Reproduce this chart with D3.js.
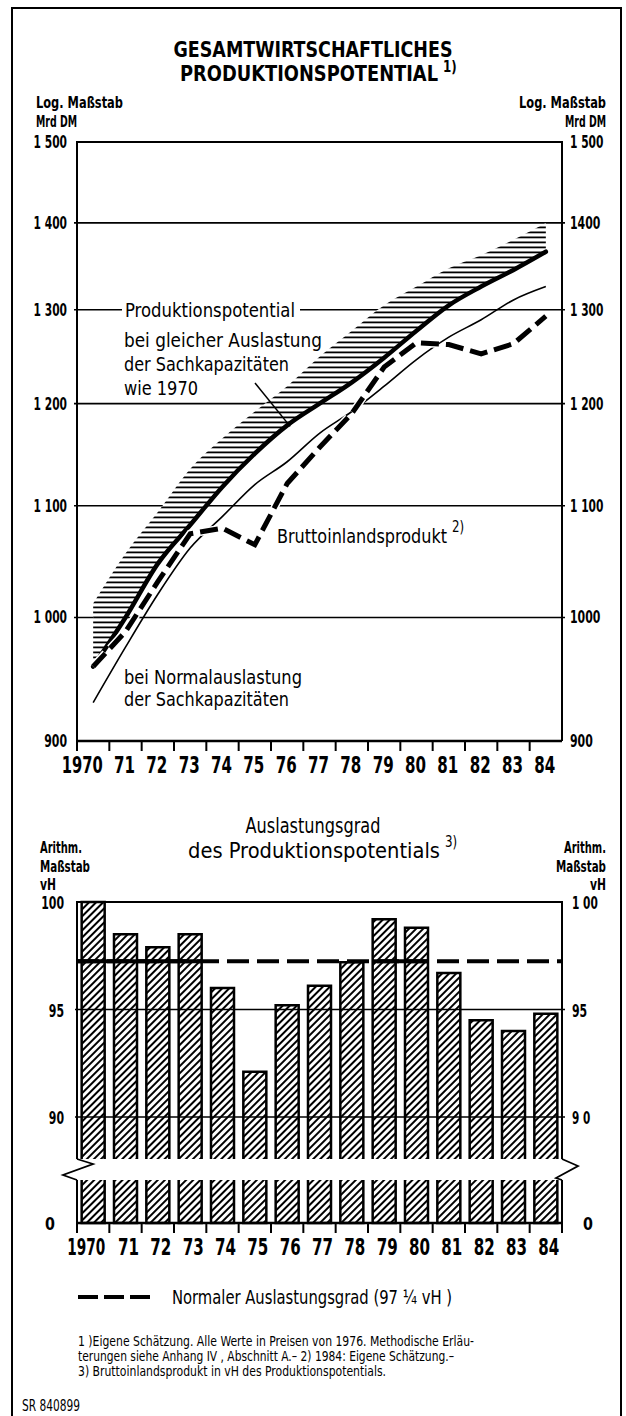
<!DOCTYPE html>
<html><head><meta charset="utf-8">
<script src="https://cdn.jsdelivr.net/npm/d3@7"></script>
<style>html,body{margin:0;padding:0;background:#fff}</style>
</head><body>
<svg id="c" width="626" height="1416"></svg>
<script>
// ---------- DATA ----------
const years = [1970,1971,1972,1973,1974,1975,1976,1977,1978,1979,1980,1981,1982,1983,1984];
const yearLabels = ["1970","71","72","73","74","75","76","77","78","79","80","81","82","83","84"];
// Produktionspotential bei gleicher Auslastung der Sachkapazitäten wie 1970 (Mrd DM)
const potentialSame = [959,1000,1047,1082,1118,1150,1178,1200,1222,1248,1277,1305,1326,1345,1366];
// upper edge of hatched band
const hatchUpper = [1012,1056,1094,1135,1165,1192,1218,1249,1277,1305,1326,1347,1362,1380,1400];
// Produktionspotential bei Normalauslastung der Sachkapazitäten
const potentialNormal = [930,975,1020,1061,1090,1120,1142,1170,1192,1218,1246,1270,1289,1311,1326];
// Bruttoinlandsprodukt
const gdp = [959,988,1031,1074,1079,1064,1121,1156,1190,1238,1264,1262,1252,1263,1293];
// Auslastungsgrad (vH)
const utilisation = [100.0,98.5,97.9,98.5,96.0,92.1,95.2,96.1,97.2,99.2,98.8,96.7,94.5,94.0,94.8];
const normalUtil = 97.25;
const topTicks = [900,1000,1100,1200,1300,1400,1500];
const topTickLabelsL = ["900","1 000","1 100","1 200","1 300","1 400","1 500"];
const topTickLabelsR = ["900","1000","1 100","1 200","1 300","1400","1 500"];
const botTicks = [90,95,100];
const botTickLabelsL = ["90","95","100"];
const botTickLabelsR = ["9 0","95","1 00"];

// ---------- FONT ----------
function hasFont(f){
  const c=document.createElement('canvas').getContext('2d');
  const s='Produktionspotential 1970 WM';
  c.font='40px monospace'; const a=c.measureText(s).width;
  c.font='40px "'+f+'", monospace'; const b=c.measureText(s).width;
  return Math.abs(a-b)>0.5;
}
let FAM, SX;
if (hasFont('Liberation Sans Narrow')) { FAM='"Liberation Sans Narrow"'; SX=1; }
else if (hasFont('DejaVu Sans Condensed')) { FAM='"DejaVu Sans Condensed"'; SX=0.88; }
else { FAM='"Liberation Sans", Arial, sans-serif'; SX=0.82; }

const svg = d3.select('#c');
svg.append('rect').attr('width',626).attr('height',1416).attr('fill','#fff');

function txt(x,y,str,o={}){
  const g = svg.append('g').attr('transform',`translate(${x},${y}) scale(${SX},1)`);
  const t = g.append('text').attr('font-family',FAM).attr('font-size',o.size||16)
    .attr('font-weight',o.weight||'normal').attr('text-anchor',o.anchor||'start')
    .attr('fill','#000').text(str);
  if (o.len) t.attr('textLength',o.len/SX).attr('lengthAdjust','spacingAndGlyphs');
  return t;
}
const numLen = s => s.replace(/ /g,'').length*7.6 + (s.includes(' ')?3:0);

// ---------- PATTERNS ----------
const defs = svg.append('defs');
const ph = defs.append('pattern').attr('id','hHatch').attr('patternUnits','userSpaceOnUse')
  .attr('width',8).attr('height',5);
ph.append('rect').attr('x',0).attr('y',1.5).attr('width',8).attr('height',1.8).attr('fill','#000');
const pd = defs.append('pattern').attr('id','dHatch').attr('patternUnits','userSpaceOnUse')
  .attr('width',5).attr('height',5).attr('patternTransform','rotate(45)');
pd.append('rect').attr('x',0).attr('y',0).attr('width',2).attr('height',5).attr('fill','#000');

// outer border
svg.append('path').attr('d','M12,1416 L12,8 L621,8 L621,1416').attr('fill','none')
  .attr('stroke','#000').attr('stroke-width',2);

// ---------- SCALES ----------
const x = d3.scaleBand().domain(years).range([77,562]).paddingInner(0).paddingOuter(0);
const xc = d => x(d) + x.bandwidth()/2;
const yT = d3.scaleLog().domain([900,1500]).range([741,142]);
const L = x.range()[0], R = x.range()[1];

// ---------- TOP CHART ----------
txt(313,57,'GESAMTWIRTSCHAFTLICHES',{size:21,weight:'bold',anchor:'middle',len:279});
txt(180,81,'PRODUKTIONSPOTENTIAL',{size:21,weight:'bold',len:258});
txt(443,72,'1)',{size:15,weight:'bold'});

txt(36,108,'Log. Maßstab',{size:16,weight:'bold',len:87});
txt(36,127,'Mrd DM',{size:16,weight:'bold',len:41});
txt(606,108,'Log. Maßstab',{size:16,weight:'bold',anchor:'end',len:87});
txt(606,127,'Mrd DM',{size:16,weight:'bold',anchor:'end',len:41});

// gridlines
svg.append('g').selectAll('line').data(topTicks.filter(t=>t>900 && t<1500)).join('line')
  .attr('x1',L-3).attr('x2',R+3).attr('y1',d=>yT(d)).attr('y2',d=>yT(d))
  .attr('stroke','#000').attr('stroke-width',1.6);
// tick labels
topTicks.forEach((t,i)=>{
  txt(67,yT(t)+6,topTickLabelsL[i],{size:18,weight:'bold',anchor:'end',len:numLen(topTickLabelsL[i])});
  txt(570,yT(t)+6,topTickLabelsR[i],{size:18,weight:'bold',len:numLen(topTickLabelsR[i])});
});

// hatched band
const band = d3.area().x((d,i)=>xc(years[i])).y0((d,i)=>yT(potentialSame[i])).y1(d=>yT(d)).curve(d3.curveMonotoneX);
svg.append('path').attr('d',band(hatchUpper)).attr('fill','#fff');
svg.append('path').attr('d',band(hatchUpper)).attr('fill','url(#hHatch)');

// label on 1300 gridline
const y1300 = yT(1300);
svg.append('rect').attr('x',122).attr('y',y1300-14).attr('width',178).attr('height',22).attr('fill','#fff');
txt(125,y1300+7,'Produktionspotential',{size:19,len:170});

const lineGen = d3.line().x((d,i)=>xc(years[i])).y(d=>yT(d));
// thin line
svg.append('path').attr('d',lineGen.curve(d3.curveMonotoneX)(potentialNormal))
  .attr('fill','none').attr('stroke','#000').attr('stroke-width',1.6);
// thick line
svg.append('path').attr('d',lineGen.curve(d3.curveMonotoneX)(potentialSame))
  .attr('fill','none').attr('stroke','#000').attr('stroke-width',4.5).attr('stroke-linecap','round');
// dashed GDP
svg.append('path').attr('d',lineGen.curve(d3.curveLinear)(gdp))
  .attr('fill','none').attr('stroke','#fff').attr('stroke-width',8).attr('stroke-dasharray','18,7');
svg.append('path').attr('d',lineGen.curve(d3.curveLinear)(gdp))
  .attr('fill','none').attr('stroke','#000').attr('stroke-width',5).attr('stroke-dasharray','18,7');

// frame
svg.append('path').attr('d',`M${L},${yT(900)} L${L},${yT(1500)} L${R},${yT(1500)} L${R},${yT(900)}`)
  .attr('fill','none').attr('stroke','#000').attr('stroke-width',2);
// x axis
svg.append('line').attr('x1',L).attr('x2',R).attr('y1',yT(900)).attr('y2',yT(900)).attr('stroke','#000').attr('stroke-width',2.5);
svg.append('g').selectAll('line').data(years).join('line')
  .attr('x1',d=>x(d)).attr('x2',d=>x(d)).attr('y1',yT(900)).attr('y2',yT(900)+10)
  .attr('stroke','#000').attr('stroke-width',2);
years.forEach((yr,i)=>{
  const lab = yearLabels[i];
  const cx = i===0 ? xc(yr)-11 : xc(yr)-1;
  txt(cx,773,lab,{size:23,weight:'bold',anchor:'middle',len:i===0?41:21});
});

// annotations
txt(124,347,'bei gleicher Auslastung',{size:19,len:198});
txt(124,371,'der Sachkapazitäten',{size:19,len:165});
txt(124,395,'wie 1970',{size:19,len:74});
svg.append('line').attr('x1',255).attr('y1',383).attr('x2',xc(1976)+3).attr('y2',yT(potentialSame[6])+1)
  .attr('stroke','#000').attr('stroke-width',1.5);
txt(277,543,'Bruttoinlandsprodukt',{size:19,len:170});
txt(452,532,'2)',{size:15});
txt(124,684,'bei Normalauslastung',{size:19,len:178});
txt(124,706,'der Sachkapazitäten',{size:19,len:165});

// ---------- BOTTOM CHART ----------
const yB = d3.scaleLinear().domain([90,100]).range([1117,902]);
const breakTop = 1159, breakBot = 1180, axisB = 1223;
const yLow = d3.scaleLinear().domain([0,1]).range([axisB,breakBot]);

txt(313,833,'Auslastungsgrad',{size:21,anchor:'middle',len:135});
txt(188,858,'des Produktionspotentials',{size:21,len:252});
txt(445,847,'3)',{size:15});

txt(40,853,'Arithm.',{size:15,weight:'bold',len:42});
txt(40,872,'Maßstab',{size:15,weight:'bold',len:50});
txt(40,890,'vH',{size:15,weight:'bold',len:16});
txt(606,853,'Arithm.',{size:15,weight:'bold',anchor:'end',len:42});
txt(606,872,'Maßstab',{size:15,weight:'bold',anchor:'end',len:50});
txt(606,890,'vH',{size:15,weight:'bold',anchor:'end',len:16});

botTicks.forEach((t,i)=>{
  txt(64,yB(t)+7,botTickLabelsL[i],{size:18,weight:'bold',anchor:'end',len:numLen(botTickLabelsL[i])});
  txt(572,yB(t)+7,botTickLabelsR[i],{size:18,weight:'bold',len:numLen(botTickLabelsR[i])});
});
txt(55,axisB+7,'0',{size:18,weight:'bold',anchor:'end'});
txt(583,axisB+7,'0',{size:18,weight:'bold'});

// gridlines 90, 95
svg.append('g').selectAll('line').data([90,95]).join('line')
  .attr('x1',L-2).attr('x2',R+3).attr('y1',d=>yB(d)).attr('y2',d=>yB(d))
  .attr('stroke','#000').attr('stroke-width',1.6);

// bars
const bw = 23;
const bars = svg.append('g');
utilisation.forEach((v,i)=>{
  const bx = xc(years[i]) - bw/2;
  const top = yB(v);
  bars.append('rect').attr('x',bx).attr('y',top).attr('width',bw).attr('height',breakTop-top).attr('fill','url(#dHatch)');
  bars.append('path').attr('d',`M${bx},${breakTop} L${bx},${top} L${bx+bw},${top} L${bx+bw},${breakTop}`)
    .attr('fill','none').attr('stroke','#000').attr('stroke-width',2.5);
  bars.append('rect').attr('x',bx).attr('y',yLow(1)).attr('width',bw).attr('height',yLow(0)-yLow(1)).attr('fill','url(#dHatch)');
  bars.append('path').attr('d',`M${bx},${yLow(1)} L${bx},${yLow(0)} L${bx+bw},${yLow(0)} L${bx+bw},${yLow(1)}`)
    .attr('fill','none').attr('stroke','#000').attr('stroke-width',2.5);
});

// normal utilisation dashed line
const yN = yB(normalUtil);
svg.append('line').attr('x1',L).attr('x2',R).attr('y1',yN).attr('y2',yN)
  .attr('stroke','#000').attr('stroke-width',4).attr('stroke-dasharray','22,8');
// solid where consecutive bars exceed the line
let runStart = null;
utilisation.forEach((v,i)=>{
  if (v>normalUtil && runStart===null) runStart=i;
  const endRun = runStart!==null && (i===utilisation.length-1 || !(utilisation[i+1]>normalUtil));
  if (v>normalUtil && endRun){
    const xa = runStart===0 ? L : xc(years[runStart])-bw/2;
    const xb = xc(years[i])+bw/2;
    svg.append('line').attr('x1',xa).attr('x2',xb).attr('y1',yN).attr('y2',yN).attr('stroke','#000').attr('stroke-width',4);
    runStart=null;
  }
});

// frame with breaks
svg.append('path').attr('d',`M${L},${breakTop} L${L},${yB(100)} L${R},${yB(100)} L${R},${breakTop}`)
  .attr('fill','none').attr('stroke','#000').attr('stroke-width',2);
svg.append('path').attr('d',`M${L},${breakBot} L${L},${axisB} M${R},${breakBot} L${R},${axisB}`)
  .attr('fill','none').attr('stroke','#000').attr('stroke-width',2);
// zigzags
svg.append('path').attr('d',`M${L},${breakTop} L${L+16},${breakTop+5} L${L-14},${breakTop+16} L${L},${breakBot}`)
  .attr('fill','none').attr('stroke','#000').attr('stroke-width',1.8);
svg.append('path').attr('d',`M${R},${breakTop} L${R+16},${breakTop+7} L${R-6},${breakTop+19} L${R},${breakBot}`)
  .attr('fill','none').attr('stroke','#000').attr('stroke-width',1.8);
// axis
svg.append('line').attr('x1',L).attr('x2',R).attr('y1',axisB).attr('y2',axisB).attr('stroke','#000').attr('stroke-width',2.5);
svg.append('g').selectAll('line').data(years.concat([null])).join('line')
  .attr('x1',d=>d===null?R:x(d)).attr('x2',d=>d===null?R:x(d)).attr('y1',axisB).attr('y2',axisB+10)
  .attr('stroke','#000').attr('stroke-width',2);
years.forEach((yr,i)=>{
  const cx = i===0 ? xc(yr)-7 : xc(yr)+3;
  txt(cx,1255,yearLabels[i],{size:23,weight:'bold',anchor:'middle',len:i===0?38:21});
});

// legend
svg.append('line').attr('x1',78).attr('x2',150).attr('y1',1297).attr('y2',1297)
  .attr('stroke','#000').attr('stroke-width',4).attr('stroke-dasharray','20,6');
txt(172,1304,'Normaler Auslastungsgrad (97 ¼ vH )',{size:19,len:280});

// footnotes
txt(78,1346,'1 )Eigene Schätzung. Alle Werte in Preisen von 1976. Methodische Erläu-',{size:14,len:396});
txt(78,1361,'terungen siehe Anhang IV , Abschnitt A.– 2) 1984: Eigene Schätzung.–',{size:14,len:376});
txt(78,1376,'3) Bruttoinlandsprodukt in vH des Produktionspotentials.',{size:14,len:308});
txt(22,1411,'SR 840899',{size:15,len:58});
</script>
</body></html>
